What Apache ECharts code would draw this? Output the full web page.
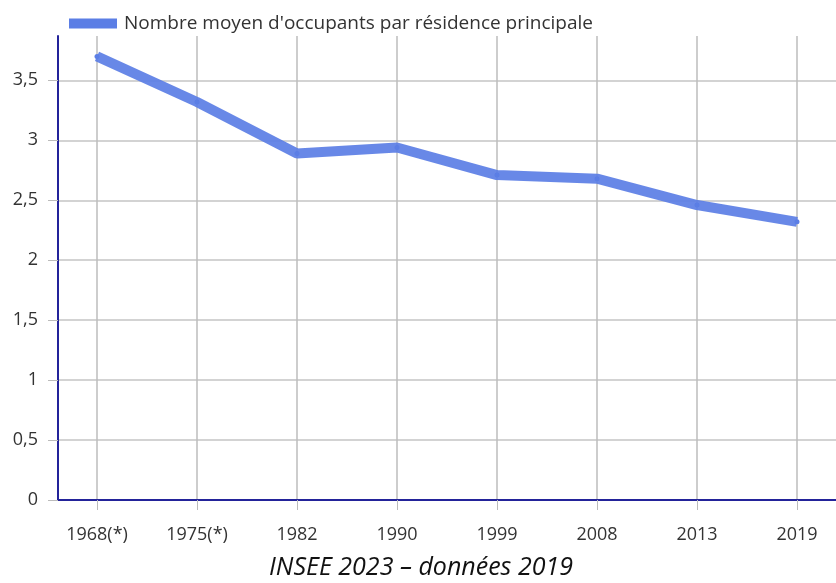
<!DOCTYPE html>
<html>
<head>
<meta charset="utf-8" />
<title>Nombre moyen d'occupants</title>
<script src="https://cdn.jsdelivr.net/npm/echarts@6/dist/echarts.min.js"></script>
<style>
    html, body { margin: 0; padding: 0; background: #fff; }
    #chart { width: 836px; height: 583px; }
</style>
</head>
<body>
<div id="chart"></div>
<script type="text/javascript">
// données
var years = ['1968(*)', '1975(*)', '1982', '1990', '1999', '2008', '2013', '2019'];
var occupants = [3.70, 3.32, 2.89, 2.94, 2.71, 2.68, 2.46, 2.32];
var yTicks = [0, 0.5, 1, 1.5, 2, 2.5, 3, 3.5];
var xTicks = [0, 1, 2, 3, 4, 5, 6, 7];

var serieName = "Nombre moyen d'occupants par résidence principale";
var source = "INSEE 2023 \u2013 données 2019";

var points = [];
for (var i = 0; i < occupants.length; i++) {
    points.push([i, occupants[i]]);
}

var chart = echarts.init(document.getElementById('chart'));
var option = {
    animation: false,
    legend: {
        left: 64,
        top: 9,
        itemWidth: 48,
        itemHeight: 10,
        itemGap: 10,
        icon: 'rect',
        textStyle: { fontFamily: 'Open Sans', fontSize: 19, color: '#333', padding: [0, 0, 0, 2] },
        data: [serieName]
    },
    // la source sous le graphique
    graphic: [{
        type: 'text',
        x: 421,
        y: 568,
        style: {
            text: source,
            fontFamily: 'Open Sans',
            fontStyle: 'italic',
            fontSize: 25,
            fill: '#111',
            align: 'center',
            verticalAlign: 'middle'
        }
    }],
    grid: { left: 58, right: 0, top: 36, bottom: 83 },
    xAxis: {
        type: 'value',
        min: -0.39,
        max: 7.39,
        axisLine: { show: true, lineStyle: { color: '#23239a', width: 2 } },
        axisTick: { show: true, customValues: xTicks, length: 10, lineStyle: { color: '#bbb' } },
        axisLabel: {
            customValues: xTicks,
            margin: 26,
            fontFamily: 'Open Sans', fontSize: 18, color: '#333',
            formatter: function (v) { return years[Math.round(v)]; }
        },
        splitLine: { show: true, lineStyle: { color: '#bdbdbd', width: 1.5 } }
    },
    yAxis: {
        type: 'value',
        min: 0,
        max: 3.87,
        axisLine: { show: true, onZero: false, lineStyle: { color: '#23239a', width: 2 } },
        axisTick: { show: true, customValues: yTicks, length: 10, lineStyle: { color: '#bbb' } },
        axisLabel: {
            customValues: yTicks,
            margin: 20,
            fontFamily: 'Open Sans', fontSize: 18, color: '#333',
            formatter: function (v) { return String(v).replace('.', ','); }
        },
        splitLine: { show: true, lineStyle: { color: '#c4c4c4', width: 1.5 } }
    },
    series: [{
        name: serieName,
        type: 'line',
        data: points,
        symbol: 'circle',
        symbolSize: 5,
        itemStyle: { color: '#5b7ee5' },
        lineStyle: { color: '#5b7ee5', width: 10, opacity: 0.92 }
    }]
};
chart.setOption(option);
</script>
</body>
</html>
